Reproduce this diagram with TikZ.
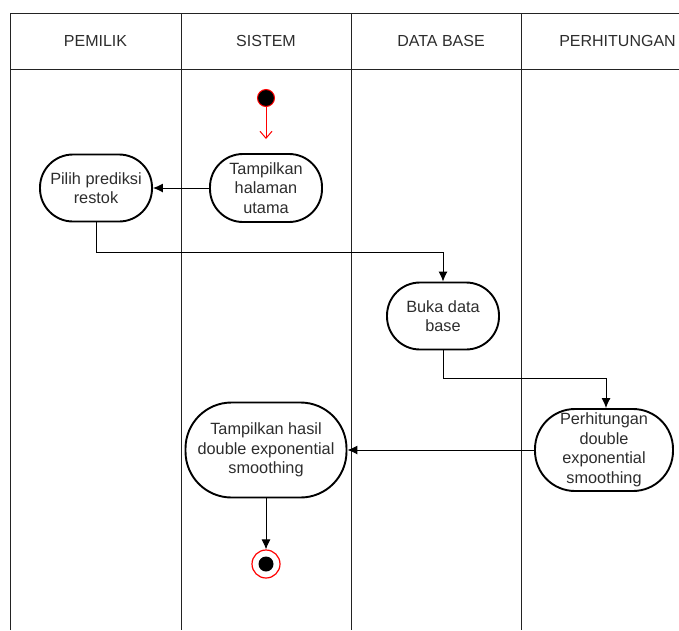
\documentclass[tikz,border=0pt]{standalone}
\usepackage{fontspec}
\setmainfont{Liberation Sans}
\usetikzlibrary{arrows.meta}
\definecolor{lanecol}{RGB}{35,35,35}
\definecolor{txtcol}{RGB}{45,45,45}
\definecolor{sred}{RGB}{255,0,0}
\begin{document}
\begin{tikzpicture}[x=1pt,y=-1pt,
  lanestyle/.style={draw=lanecol, line width=0.9pt},
  hdr/.style={font=\fontsize{16}{19}\selectfont, text=txtcol, inner sep=0pt},
  act/.style={draw=black, line width=1.9pt, rounded corners=#1, align=center,
    font=\fontsize{16.3}{19.5}\selectfont, text=txtcol, inner sep=0pt},
  act/.default=33pt,
  flow/.style={draw=black, line width=1pt, -{Latex[length=10pt,width=9pt]}},
  startflow/.style={draw=sred, line width=1pt, -{Straight Barb[length=7pt,width=12pt]}}
]
\useasboundingbox (0,0) rectangle (679,630);
\begin{scope}
\clip (0,0) rectangle (679,630);
% swimlanes
\draw[lanestyle] (10,630) -- (10,13) -- (700,13);
\draw[lanestyle] (10,69) -- (700,69);
\draw[lanestyle] (181,13) -- (181,630);
\draw[lanestyle] (351,13) -- (351,630);
\draw[lanestyle] (521,13) -- (521,630);
\node[hdr] (h1) at (95.5,41) {PEMILIK};
\node[hdr] (h2) at (266,41) {SISTEM};
\node[hdr] (h3) at (441,41) {DATA BASE};
\node[hdr] (h4) at (617.5,41) {PERHITUNGAN};
\end{scope}

% start
\node[circle, draw=sred, fill=black, line width=1pt, minimum size=17pt, inner sep=0pt] (start) at (266,98) {};
\node[act, minimum width=112pt, minimum height=68pt] (tampil) at (266,188) {Tampilkan\\halaman\\utama};
\node[act, minimum width=112pt, minimum height=67pt] (pilih) at (96,188) {Pilih prediksi\\restok};
\node[act, minimum width=112pt, minimum height=67pt] (buka) at (443,316) {Buka data\\base};
\node[act=40pt, minimum width=138pt, minimum height=82pt] (hitung) at (604,450) {Perhitungan\\double\\exponential\\smoothing};
\node[act=46pt, minimum width=161pt, minimum height=95pt] (hasil) at (266,450) {Tampilkan hasil\\double exponential\\smoothing};
% end
\node[circle, draw=sred, line width=1.2pt, minimum size=28pt, inner sep=0pt] (endo) at (266,564) {};
\node[circle, fill=black, minimum size=15pt, inner sep=0pt] (endi) at (266,564) {};

\coordinate (c1) at (443,252);
\coordinate (c2) at (606,378);

\draw[startflow] (start) -- ++(0,41);
\draw[flow] (tampil.west) -- (pilih.east);
\draw[flow] (pilih.south) |- (c1) -- (buka.north);
\draw[flow] (buka.south) |- (c2) -- (c2 |- hitung.north);
\draw[flow] (hitung.west) -- (hasil.east);
\draw[flow] (hasil.south) -- (endo.north);
\end{tikzpicture}
\end{document}
